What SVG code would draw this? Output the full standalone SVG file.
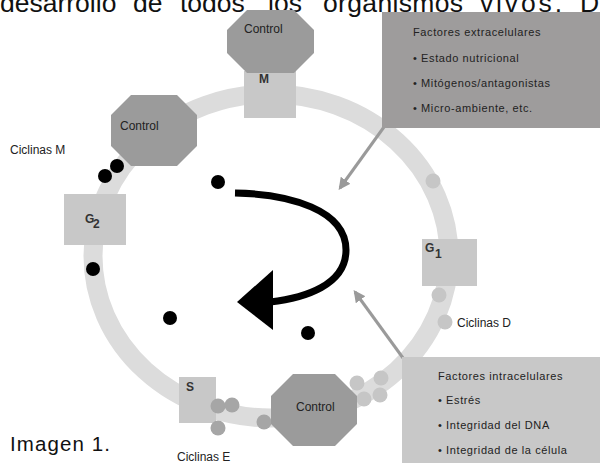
<svg xmlns="http://www.w3.org/2000/svg" width="600" height="472" viewBox="0 0 600 472">
<style>
  .t { font-family: "Liberation Sans", Arial, sans-serif; fill: #222; }
  .lbl { font-size: 12px; }
  .box { font-size: 11px; letter-spacing: 0.6px; }
  .ph { font-size: 12px; font-weight: bold; fill: #333; }
  .oct { fill: #9b9b9b; }
  .phase { fill: #c8c8c8; }
  .blk { fill: #000; }
  .gd { fill: #c6c6c6; }
  .md { fill: #a6a6a6; }
  .garr { stroke: #9a9a9a; stroke-width: 3; fill: none; marker-end: url(#ah); }
  .top { font-family: "Liberation Sans", Arial, sans-serif; font-size: 26.5px; fill: #111; }
</style>
<defs>
  <marker id="ah" viewBox="0 0 10 10" refX="8" refY="5" markerWidth="4" markerHeight="4" orient="auto" markerUnits="strokeWidth">
    <path d="M0,0 L10,5 L0,10 z" fill="#9a9a9a"/>
  </marker>
</defs>
<rect width="600" height="472" fill="#fff"/>

<g id="header-text">
  <text class="top" x="0" y="12">desarrollo</text>
  <text class="top" x="133" y="12">de</text>
  <text class="top" x="180" y="12">todos</text>
  <text class="top" x="268" y="12">los</text>
  <text class="top" x="323" y="12" textLength="140">organismos</text>
  <text class="top" x="480" y="12" textLength="82">vivos.</text>
  <text class="top" x="580" y="12">D</text>
</g>

<g id="ring">
  <ellipse cx="271" cy="256" rx="178" ry="162" fill="none" stroke="#dcdcdc" stroke-width="19"/>
</g>

<g id="connectors">
  <line class="garr" x1="384" y1="127" x2="340" y2="188"/>
  <line class="garr" x1="403" y1="358" x2="355" y2="292"/>
  <path d="M235,193 C290,194 346,210 346,250 C346,285 305,298 270,302" fill="none" stroke="#000" stroke-width="7"/>
  <polygon points="237,302 273,270 273,330" fill="#000"/>
</g>

<g id="cyclin-dots">
  <circle class="blk" cx="218" cy="182" r="7"/>
  <circle class="blk" cx="308" cy="333" r="7"/>
  <circle class="blk" cx="170" cy="318" r="7"/>
  <circle class="blk" cx="93" cy="269" r="7"/>
  <circle class="blk" cx="117" cy="166" r="7"/>
  <circle class="blk" cx="105" cy="176" r="7"/>
  <circle class="gd" cx="433" cy="181" r="7.5"/>
  <circle class="gd" cx="439" cy="295" r="7.5"/>
  <circle class="gd" cx="445" cy="322" r="7.5"/>
  <circle class="gd" cx="357" cy="383" r="7.5"/>
  <circle class="gd" cx="381" cy="378" r="7.5"/>
  <circle class="gd" cx="364" cy="399" r="7.5"/>
  <circle class="gd" cx="380" cy="395" r="7.5"/>
</g>

<g id="phase-M">
  <rect class="phase" x="244" y="71" width="52" height="47"/>
  <text class="t ph" x="259" y="83">M</text>
</g>
<g id="control-top">
  <polygon class="oct" points="247,10 294,10 314,30 314,53 294,73 247,73 227,53 227,30"/>
  <text class="t lbl" x="244" y="33">Control</text>
</g>

<g id="control-left">
  <polygon class="oct" points="131,95 177,95 197,115 197,146 177,166 131,166 111,146 111,115"/>
  <text class="t lbl" x="120" y="130">Control</text>
</g>

<g id="phase-G2">
  <rect class="phase" x="64" y="194" width="62" height="51"/>
  <text class="t ph" x="85" y="223">G</text>
  <text class="t ph" x="93" y="228">2</text>
</g>

<g id="phase-G1">
  <rect class="phase" x="422" y="239" width="55" height="47"/>
  <text class="t ph" x="425" y="252">G</text>
  <text class="t ph" x="435" y="258">1</text>
</g>

<g id="phase-S">
  <rect class="phase" x="179" y="377" width="37" height="46"/>
  <text class="t ph" x="186" y="391">S</text>
  <circle class="md" cx="218" cy="406" r="7.5"/>
  <circle class="md" cx="232" cy="405" r="7.5"/>
  <circle class="md" cx="218" cy="428" r="7.5"/>
  <circle class="md" cx="264" cy="422" r="7.5"/>
</g>

<g id="control-bottom">
  <polygon class="oct" points="293,374 335,374 357,396 357,424 335,446 293,446 271,424 271,396"/>
  <text class="t lbl" x="296" y="411">Control</text>
</g>

<g id="extracellular">
  <rect x="382" y="12" width="218" height="116" fill="#9e9c9c"/>
  <text class="t box" x="413" y="36">Factores extracelulares</text>
  <text class="t box" x="413" y="62">• Estado nutricional</text>
  <text class="t box" x="413" y="87">• Mitógenos/antagonistas</text>
  <text class="t box" x="413" y="112">• Micro-ambiente, etc.</text>
</g>

<g id="intracellular">
  <rect x="402" y="357" width="198" height="106" fill="#c8c8c8"/>
  <text class="t box" x="438" y="380">Factores intracelulares</text>
  <text class="t box" x="438" y="404">• Estrés</text>
  <text class="t box" x="438" y="429">• Integridad del DNA</text>
  <text class="t box" x="438" y="454">• Integridad de la célula</text>
</g>

<g id="labels">
  <text class="t lbl" x="10" y="154">Ciclinas M</text>
  <text class="t lbl" x="457" y="327">Ciclinas D</text>
  <text class="t lbl" x="177" y="461">Ciclinas E</text>
  <text x="10" y="451" font-family="Liberation Sans, Arial, sans-serif" font-size="20.5" fill="#111" textLength="100">Imagen 1.</text>
</g>
</svg>
